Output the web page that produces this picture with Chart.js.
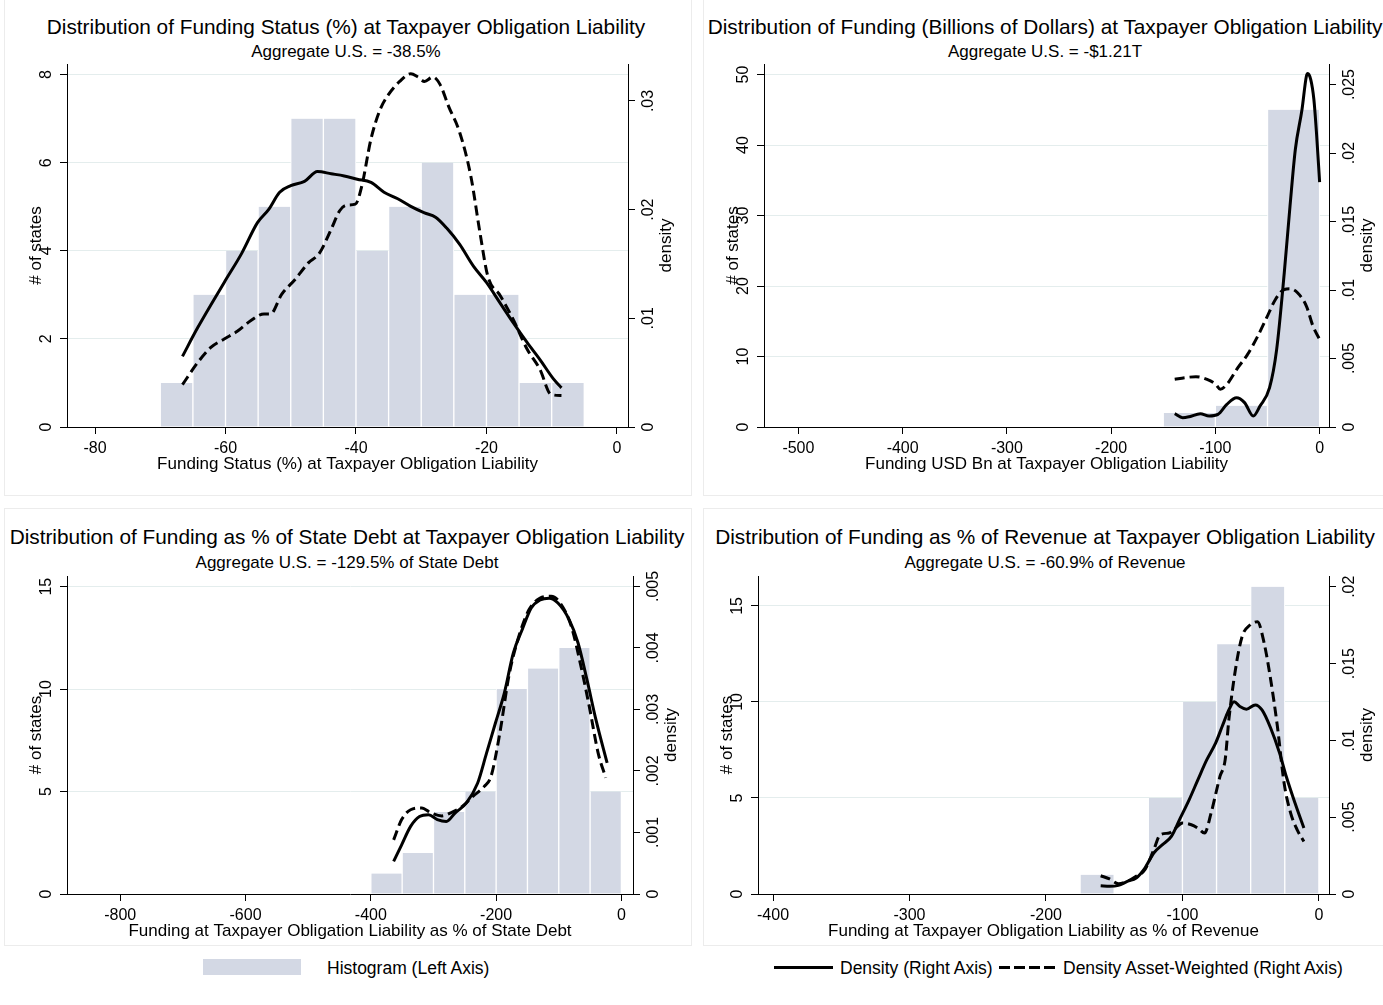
<!DOCTYPE html>
<html lang="en">
<head>
<meta charset="UTF-8">
<title>Distribution of Funding at Taxpayer Obligation Liability</title>
<script src="https://cdn.jsdelivr.net/npm/chart.js"></script>
<style>
  body { margin: 0; width: 1383px; height: 1005px; overflow: hidden; position: relative; background: #fff;
         font-family: "Liberation Sans", Arial, sans-serif; color: #000; }
  .box { position: absolute; border: 1px solid #ececec; }
  .title { position: absolute; width: 800px; text-align: center; font-size: 20.8px; line-height: 24px; white-space: nowrap; }
  .sub { position: absolute; width: 800px; text-align: center; font-size: 17px; line-height: 20px; white-space: nowrap; }
  canvas { position: absolute; }
  .leg { position: absolute; font-size: 17.5px; line-height: 20px; white-space: nowrap; }
</style>
</head>
<body>

<div class="box" style="left:4px; top:-2px; width:686px; height:496px;"></div>
<div class="box" style="left:703px; top:-2px; width:690px; height:496px;"></div>
<div class="box" style="left:4px; top:508px; width:686px; height:436px;"></div>
<div class="box" style="left:703px; top:508px; width:690px; height:436px;"></div>

<div class="title" style="left:-54px; top:15px;">Distribution of Funding Status (%) at Taxpayer Obligation Liability</div>
<div class="sub" style="left:-54px; top:42px;">Aggregate U.S. = -38.5%</div>
<div class="title" style="left:645px; top:15px;">Distribution of Funding (Billions of Dollars) at Taxpayer Obligation Liability</div>
<div class="sub" style="left:645px; top:42px;">Aggregate U.S. = -$1.21T</div>
<div class="title" style="left:-53px; top:525px;">Distribution of Funding as % of State Debt at Taxpayer Obligation Liability</div>
<div class="sub" style="left:-53px; top:553px;">Aggregate U.S. = -129.5% of State Debt</div>
<div class="title" style="left:645px; top:525px;">Distribution of Funding as % of Revenue at Taxpayer Obligation Liability</div>
<div class="sub" style="left:645px; top:553px;">Aggregate U.S. = -60.9% of Revenue</div>

<canvas id="c1"></canvas>
<canvas id="c2"></canvas>
<canvas id="c3"></canvas>
<canvas id="c4"></canvas>

<!-- shared legend under the bottom row -->
<div style="position:absolute; left:203px; top:959px; width:98px; height:16px; background:#d3d8e4;"></div>
<div class="leg" style="left:327px; top:958px;">Histogram (Left Axis)</div>
<div style="position:absolute; left:774px; top:966px; width:59px; height:3px; background:#000;"></div>
<div class="leg" style="left:840px; top:958px;">Density (Right Axis)</div>
<div style="position:absolute; left:999px; top:966px; width:57px; height:3px;
            background:repeating-linear-gradient(to right, #000 0 11px, transparent 11px 15px);"></div>
<div class="leg" style="left:1063px; top:958px;">Density Asset-Weighted (Right Axis)</div>

<script>
// ---- panel 1: funding status (%)
const fsBins = [-67.5, -62.5, -57.5, -52.5, -47.5, -42.5, -37.5, -32.5, -27.5, -22.5, -17.5, -12.5, -7.5];
const fsCounts = [1, 3, 4, 5, 7, 7, 4, 5, 6, 3, 3, 1, 1];
const fsDensX = [-66.6, -64.3, -60.2, -57.5, -55.1, -53.4, -51.7, -50, -47.9, -45.9, -43.8, -41.8, -39.8, -37.7,
                 -35.7, -33.6, -31.6, -29.5, -27.8, -26.1, -24.1, -22.0, -20.0, -17.9, -15.9, -13.8, -11.8, -9.7, -8.5];
const fsDensY = [.0065, .0091, .0133, .0160, .0188, .0200, .0216, .0222, .0226, .0235, .0233, .0231, .0228, .0225,
                 .0216, .0210, .0203, .0197, .0193, .0183, .0168, .0148, .0133, .0114, .0096, .0078, .0062, .0044, .0036];
const fsWtX = [-66.6, -64.3, -62.3, -60.2, -58.2, -56.1, -54.1, -53.1, -51.4, -49.3, -47.3, -45.6, -43.8, -42.5,
               -41.5, -40.1, -39.1, -37.7, -36.3, -35.0, -33.3, -31.6, -30.5, -29.5, -28.2, -27.1, -25.8, -24.1,
               -22.4, -21.0, -19.8, -17.9, -15.9, -13.8, -11.8, -10.1, -8.5];
const fsWtY = [.0039, .0059, .0073, .0081, .0088, .0098, .0104, .0104, .0122, .0136, .0151, .0160, .0182, .0199,
               .0204, .0205, .0222, .0265, .0292, .0306, .0318, .0325, .0322, .0318, .0322, .0315, .0295, .0271,
               .0231, .0179, .0139, .0121, .0099, .0072, .0053, .0030, .0029];
const fsXTicks = [-80, -60, -40, -20, 0];
const fsLeftTicks = [0, 2, 4, 6, 8];
const fsRightTicks = [0, 0.01, 0.02, 0.03];

// ---- panel 2: funding, USD bn
const usdBins = [-125, -75, -25];
const usdCounts = [2, 3, 45];
const usdDensX = [-139, -131.4, -125, -114.4, -106, -97.5, -89, -79.7, -72, -63.6, -57.2, -48, -41.2, -33.9,
                  -28.4, -23.3, -16.9, -12.7, -11.4, -8.5, -5.5, -3.0, 0];
const usdDensY = [.00097, .00068, .00075, .00097, .0008, .00092, .00165, .00214, .00178, .0008, .00153, .00287,
                  .00567, .01126, .01612, .02026, .02318, .02561, .0258, .02536, .02391, .02147, .01787];
const usdWtX = [-139, -129.2, -118.6, -108, -99.6, -95.3, -89, -78.4, -69.1, -59.3, -50.8, -42.4, -33.9, -28.4,
                -21.2, -12.7, -6.4, 0];
const usdWtY = [.00348, .0036, .00367, .00348, .00311, .00275, .00311, .00433, .0053, .00664, .00798, .00931,
                .01004, .01009, .0098, .00883, .00737, .0064];
const usdXTicks = [-500, -400, -300, -200, -100, 0];
const usdLeftTicks = [0, 10, 20, 30, 40, 50];
const usdRightTicks = [0, 0.005, 0.01, 0.015, 0.02, 0.025];

// ---- panel 3: % of state debt
const debtBins = [-375, -325, -275, -225, -175, -125, -75, -25];
const debtCounts = [1, 2, 4, 5, 10, 11, 12, 5];
const debtDensX = [-363.6, -350.8, -336.5, -322.3, -308, -293.8, -279.5, -265.2, -247.4, -229.6, -215.3, -201.1,
                   -186.8, -172.5, -158.3, -144, -129.8, -115.5, -101.3, -83.4, -69.2, -54.9, -40.6, -22.8];
const debtDensY = [.00053, .0008, .0011, .00126, .00129, .00121, .00118, .00132, .00148, .0018, .00229, .00278,
                   .00327, .00392, .0043, .00465, .00478, .00481, .00473, .00446, .00408, .00348, .00283, .00213];
const debtWtX = [-363.6, -350.8, -336.5, -318.7, -304.4, -286.6, -272.4, -254.5, -236.7, -218.9, -208.2, -194,
                 -179.7, -165.5, -147.6, -129.8, -112, -97.7, -79.9, -65.6, -51.3, -37.1, -25];
const debtWtY = [.00088, .00121, .00137, .0014, .00132, .00127, .00132, .00142, .00159, .00175, .00191, .00262,
                 .00354, .00413, .00462, .00481, .00484, .00473, .00435, .00375, .00305, .00229, .00189];
const debtXTicks = [-800, -600, -400, -200, 0];
const debtLeftTicks = [0, 5, 10, 15];
const debtRightTicks = [0, 0.001, 0.002, 0.003, 0.004, 0.005];

// ---- panel 4: % of revenue
const revBins = [-162.5, -137.5, -112.5, -87.5, -62.5, -37.5, -12.5];
const revCounts = [1, 0, 5, 10, 13, 16, 5];
const revDensX = [-159.9, -153.4, -146.9, -140.4, -133.9, -127.5, -121, -114.6, -108.1, -101.6, -95.1, -88.7,
                  -82.2, -75.7, -70.9, -66, -62.1, -57.9, -53.1, -46.6, -41.7, -35.3, -28.8, -23.9, -17.5, -11];
const revDensY = [.00054, .0005, .00056, .00082, .00104, .00169, .00267, .00321, .00375, .00494, .00613, .00743,
                  .00873, .00982, .0109, .01198, .01252, .0122, .01203, .01231, .01198, .01079, .00917, .00765,
                  .00592, .00429];
const revWtX = [-159.9, -153.4, -146.9, -140.4, -133.9, -127.5, -121, -116.2, -109.7, -104.9, -100, -93.5, -88.7,
                -83.8, -79, -72.5, -68.7, -66, -61.2, -56.3, -50.5, -45, -40.1, -35.3, -30.4, -25.5, -20.7,
                -15.9, -11];
const revWtY = [.00119, .00098, .00067, .00082, .00115, .00158, .00288, .00386, .00397, .00429, .00462, .00451,
                .00429, .00397, .00527, .00765, .00873, .01133, .01458, .01675, .01751, .01772, .01632, .01393,
                .0109, .00722, .00527, .00418, .00342];
const revXTicks = [-400, -300, -200, -100, 0];
const revLeftTicks = [0, 5, 10, 15];
const revRightTicks = [0, 0.005, 0.01, 0.015, 0.02];

const FONT = '"Liberation Sans", Arial, sans-serif';
const AXW = 60;   // room left/right of the plot for the y axes
const TOPPAD = 12;
const XAXH = 48;

// stata style: ".03" instead of "0.03"
function densLabel(v) {
  return v === 0 ? '0' : String(v).replace(/^0\./, '.');
}

// y labels and titles are rotated in the original, Chart.js can't do that on y axes
const rotatedAxes = {
  id: 'rotatedAxes',
  afterDraw(chart, args, o) {
    const ctx = chart.ctx;
    const area = chart.chartArea;
    const yl = chart.scales.yL, yr = chart.scales.yR;
    const put = (txt, x, y, font) => {
      ctx.save();
      ctx.font = font;
      ctx.translate(x, y);
      ctx.rotate(-Math.PI / 2);
      ctx.fillText(txt, 0, 0);
      ctx.restore();
    };
    ctx.save();
    ctx.fillStyle = '#000';
    ctx.textAlign = 'center';
    ctx.textBaseline = 'middle';
    yl.ticks.forEach(t => put(String(t.value), area.left - 20, yl.getPixelForValue(t.value), '16px ' + FONT));
    yr.ticks.forEach(t => put(densLabel(t.value), area.right + 21, yr.getPixelForValue(t.value), '16px ' + FONT));
    const midY = (area.top + area.bottom) / 2;
    put('# of states', area.left - 31, midY, '17px ' + FONT);
    put('density', area.right + 38, midY, '17px ' + FONT);
    ctx.restore();
  }
};

function points(xs, ys) {
  return xs.map((x, i) => ({ x: x, y: ys[i] }));
}

function drawPanel(id, box, p) {
  const c = document.getElementById(id);
  c.width = (box.r - box.l) + 2 * AXW;
  c.height = TOPPAD + (box.b - box.t) + XAXH;
  c.style.left = (box.l - AXW) + 'px';
  c.style.top = (box.t - TOPPAD) + 'px';

  new Chart(c, {
    type: 'bar',
    data: {
      datasets: [
        {
          type: 'line', label: 'Density (Right Axis)', data: points(p.densX, p.densY), yAxisID: 'yR',
          borderColor: '#000', borderWidth: 3, pointRadius: 0, fill: false, cubicInterpolationMode: 'monotone', order: 1
        },
        {
          type: 'line', label: 'Density Asset-Weighted (Right Axis)', data: points(p.wtX, p.wtY), yAxisID: 'yR',
          borderColor: '#000', borderWidth: 3, borderDash: [10, 5], pointRadius: 0, fill: false,
          cubicInterpolationMode: 'monotone', order: 2
        },
        {
          type: 'bar', label: 'Histogram (Left Axis)', data: points(p.bins, p.counts), yAxisID: 'yL',
          backgroundColor: '#d3d8e4', borderColor: '#fff', borderWidth: { left: 1, right: 1, top: 0, bottom: 0 },
          barPercentage: 1, categoryPercentage: 1, order: 3
        }
      ]
    },
    options: {
      responsive: false,
      animation: false,
      layout: { padding: { top: TOPPAD, left: 0, right: 0, bottom: 0 } },
      plugins: { legend: { display: false }, tooltip: { enabled: false } },
      scales: {
        x: {
          type: 'linear', min: p.xMin, max: p.xMax, offset: false,
          afterBuildTicks: s => { s.ticks = p.xTicks.map(v => ({ value: v })); },
          afterFit: s => { s.height = XAXH; },
          grid: { drawOnChartArea: false, offset: false, color: '#000', tickLength: 7 },
          border: { color: '#000', width: 1 },
          ticks: { autoSkip: false, maxRotation: 0, padding: 5, color: '#000',
                   font: { family: FONT, size: 16 }, callback: v => String(v) },
          title: { display: true, text: p.xTitle, color: '#000', font: { family: FONT, size: 17 }, padding: 0 }
        },
        yL: {
          position: 'left', min: 0, max: p.yLMax,
          afterBuildTicks: s => { s.ticks = p.leftTicks.map(v => ({ value: v })); },
          afterFit: s => { s.width = AXW; },
          grid: { color: ctx => (ctx.tick && ctx.tick.value === 0) ? 'rgba(0,0,0,0)' : '#e4eded',
                  tickColor: '#000', tickLength: 7 },
          border: { color: '#000', width: 1 },
          ticks: { display: false }
        },
        yR: {
          position: 'right', min: 0, max: p.yRMax,
          afterBuildTicks: s => { s.ticks = p.rightTicks.map(v => ({ value: v })); },
          afterFit: s => { s.width = AXW; },
          grid: { drawOnChartArea: false, tickColor: '#000', tickLength: 7 },
          border: { color: '#000', width: 1 },
          ticks: { display: false }
        }
      }
    },
    plugins: [rotatedAxes]
  });
}

drawPanel('c1', { l: 67, r: 628, t: 64, b: 427 }, {
  bins: fsBins, counts: fsCounts, densX: fsDensX, densY: fsDensY, wtX: fsWtX, wtY: fsWtY,
  xTicks: fsXTicks, leftTicks: fsLeftTicks, rightTicks: fsRightTicks,
  xMin: -84.3, xMax: 1.7, yLMax: 8.24, yRMax: 0.0334,
  xTitle: 'Funding Status (%) at Taxpayer Obligation Liability'
});
drawPanel('c2', { l: 764, r: 1329, t: 64, b: 427 }, {
  bins: usdBins, counts: usdCounts, densX: usdDensX, densY: usdDensY, wtX: usdWtX, wtY: usdWtY,
  xTicks: usdXTicks, leftTicks: usdLeftTicks, rightTicks: usdRightTicks,
  xMin: -533, xMax: 9, yLMax: 51.5, yRMax: 0.0265,
  xTitle: 'Funding USD Bn at Taxpayer Obligation Liability'
});
drawPanel('c3', { l: 67, r: 633, t: 576, b: 894 }, {
  bins: debtBins, counts: debtCounts, densX: debtDensX, densY: debtDensY, wtX: debtWtX, wtY: debtWtY,
  xTicks: debtXTicks, leftTicks: debtLeftTicks, rightTicks: debtRightTicks,
  xMin: -885, xMax: 18.5, yLMax: 15.52, yRMax: 0.00517,
  xTitle: 'Funding at Taxpayer Obligation Liability as % of State Debt'
});
drawPanel('c4', { l: 758, r: 1329, t: 576, b: 894 }, {
  bins: revBins, counts: revCounts, densX: revDensX, densY: revDensY, wtX: revWtX, wtY: revWtY,
  xTicks: revXTicks, leftTicks: revLeftTicks, rightTicks: revRightTicks,
  xMin: -411, xMax: 7.4, yLMax: 16.56, yRMax: 0.0207,
  xTitle: 'Funding at Taxpayer Obligation Liability as % of Revenue'
});
</script>
</body>
</html>
